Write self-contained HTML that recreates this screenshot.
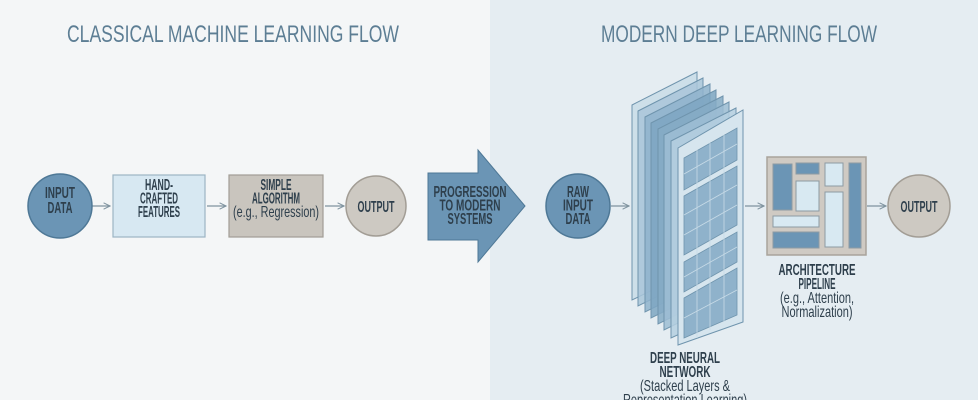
<!DOCTYPE html>
<html><head><meta charset="utf-8"><style>
html,body{margin:0;padding:0;}
body{width:978px;height:400px;overflow:hidden;background:#f3f5f6;}
svg{display:block;}
text{font-family:"Liberation Sans Narrow","Liberation Sans",sans-serif;}
</style></head><body>
<svg width="978" height="400" viewBox="0 0 978 400" xmlns="http://www.w3.org/2000/svg">
<defs>
<marker id="ah" viewBox="0 0 10 10" refX="9" refY="5" markerWidth="8" markerHeight="8" orient="auto" markerUnits="userSpaceOnUse">
<path d="M1,1 L9,5 L1,9" fill="none" stroke="#7f939f" stroke-width="1.3"/>
</marker>
</defs>
<rect x="0" y="0" width="490" height="400" fill="#f4f6f7"/>
<rect x="490" y="0" width="488" height="400" fill="#e5edf2"/>

<text x="233" y="42" font-size="24" fill="#5d7e94" text-anchor="middle" textLength="332" lengthAdjust="spacingAndGlyphs">CLASSICAL MACHINE LEARNING FLOW</text>
<text x="739" y="42" font-size="24" fill="#5d7e94" text-anchor="middle" textLength="276" lengthAdjust="spacingAndGlyphs">MODERN DEEP LEARNING FLOW</text>

<g stroke="#7f939f" stroke-width="1.3" fill="none" marker-end="url(#ah)">
<line x1="92" y1="206" x2="110" y2="206"/>
<line x1="207" y1="206" x2="226" y2="206"/>
<line x1="325" y1="206" x2="344" y2="206"/>
<line x1="611" y1="206" x2="629" y2="206"/>
<line x1="745" y1="206" x2="764" y2="206"/>
<line x1="867" y1="206" x2="886" y2="206"/>
</g>

<g font-weight="bold" font-size="16" text-anchor="middle" fill="#2e3f4c">
<circle cx="60" cy="206" r="32" fill="#6b95b5" stroke="#4e7896" stroke-width="1.5"/>
<text x="60" y="198" textLength="30" lengthAdjust="spacingAndGlyphs">INPUT</text><text x="60" y="213" textLength="25" lengthAdjust="spacingAndGlyphs">DATA</text>

<rect x="113" y="175" width="92" height="62" fill="#d7e8f2" stroke="#9cb5c4" stroke-width="1.2"/>
<text x="159" y="190" textLength="28" lengthAdjust="spacingAndGlyphs">HAND-</text><text x="159" y="203.5" textLength="38" lengthAdjust="spacingAndGlyphs">CRAFTED</text><text x="159" y="217" textLength="42" lengthAdjust="spacingAndGlyphs">FEATURES</text>

<rect x="229" y="175" width="94" height="62" fill="#c9c5be" stroke="#a29d95" stroke-width="1.2"/>
<text x="276" y="190" textLength="31" lengthAdjust="spacingAndGlyphs">SIMPLE</text><text x="276" y="203.5" textLength="48" lengthAdjust="spacingAndGlyphs">ALGORITHM</text>
<text x="276" y="217" font-weight="normal" textLength="86" lengthAdjust="spacingAndGlyphs">(e.g., Regression)</text>

<circle cx="376" cy="206" r="30" fill="#cdc9c2" stroke="#a29d95" stroke-width="1.5"/>
<text x="376" y="212" textLength="37" lengthAdjust="spacingAndGlyphs">OUTPUT</text>

<path d="M428,173 L478,173 L478,150 L525,206 L478,262 L478,240 L428,240 Z" fill="#6b95b5" stroke="#4e7896" stroke-width="1"/>
<text x="470" y="197" textLength="73" lengthAdjust="spacingAndGlyphs">PROGRESSION</text><text x="470" y="210.5" textLength="61" lengthAdjust="spacingAndGlyphs">TO MODERN</text><text x="470" y="224" textLength="45" lengthAdjust="spacingAndGlyphs">SYSTEMS</text>

<circle cx="578" cy="206" r="32" fill="#6b95b5" stroke="#4e7896" stroke-width="1.5"/>
<text x="578" y="197" textLength="22" lengthAdjust="spacingAndGlyphs">RAW</text><text x="578" y="210.5" textLength="30" lengthAdjust="spacingAndGlyphs">INPUT</text><text x="578" y="224" textLength="25" lengthAdjust="spacingAndGlyphs">DATA</text>
</g>

<!-- DNN stack -->
<g stroke="#6f94ad" stroke-width="1">
<polygon points="632,105 697,72 697,268 632,300" fill="#c9dce8" fill-opacity="0.85"/>
<polygon points="638,111 703,78 703,274 638,306" fill="#a9c6d9" fill-opacity="0.85"/>
<polygon points="645,117 710,84 710,280 645,312" fill="#8fb3cc" fill-opacity="0.85"/>
<polygon points="651,123 716,90 716,286 651,318" fill="#7ea6c2" fill-opacity="0.85"/>
<polygon points="658,129 723,96 723,292 658,324" fill="#86abc6" fill-opacity="0.85"/>
<polygon points="664,135 729,102 729,298 664,330" fill="#9dbdd3" fill-opacity="0.85"/>
<polygon points="671,141 736,108 736,308 671,338" fill="#b5cfe0" fill-opacity="0.85"/>
<polygon points="678,148 743,110 743,322 678,345" fill="#d6e5ee"/>
</g>
<g fill="#8fb2cb" stroke="#6f94ad" stroke-width="0.8">
<polygon points="684,158 737,128 737,160 684,190"/>
<polygon points="684,196 737,166 737,225 684,255"/>
<polygon points="684,262 737,232 737,262 684,292"/>
<polygon points="684,298 737,268 737,315 684,338"/>
</g>
<g stroke="#c8dbe7" stroke-width="0.8">
<line x1="697" y1="150" x2="697" y2="338"/><line x1="710" y1="143" x2="710" y2="330"/><line x1="724" y1="135" x2="724" y2="322"/>
<line x1="684" y1="174" x2="737" y2="144"/><line x1="684" y1="215" x2="737" y2="185"/><line x1="684" y1="235" x2="737" y2="205"/>
<line x1="684" y1="277" x2="737" y2="247"/><line x1="684" y1="318" x2="737" y2="290"/>
</g>

<!-- Architecture -->
<rect x="767" y="157" width="99" height="98" fill="#cfcac3" stroke="#a9a39b" stroke-width="1.5"/>
<g stroke="#8c9aa3" stroke-width="1">
<rect x="773" y="164" width="19" height="46" fill="#6b95b5"/>
<rect x="796" y="163" width="23" height="11" fill="#6b95b5"/>
<rect x="796" y="181" width="23" height="30" fill="#d8e9f2"/>
<rect x="825" y="163" width="18" height="23" fill="#d8e9f2"/>
<rect x="825" y="192" width="18" height="55" fill="#d8e9f2"/>
<rect x="849" y="163" width="12" height="85" fill="#6b95b5"/>
<rect x="773" y="216" width="46" height="11" fill="#d8e9f2"/>
<rect x="773" y="232" width="46" height="16" fill="#6b95b5"/>
</g>

<g font-weight="bold" font-size="16" text-anchor="middle" fill="#2e3f4c">
<circle cx="919" cy="206" r="31" fill="#cdc9c2" stroke="#a29d95" stroke-width="1.5"/>
<text x="919" y="212" textLength="37" lengthAdjust="spacingAndGlyphs">OUTPUT</text>
<text x="817" y="275" textLength="77" lengthAdjust="spacingAndGlyphs">ARCHITECTURE</text><text x="817" y="289" textLength="37" lengthAdjust="spacingAndGlyphs">PIPELINE</text>
<text x="817" y="303" font-weight="normal" textLength="74" lengthAdjust="spacingAndGlyphs">(e.g., Attention,</text>
<text x="817" y="317" font-weight="normal" textLength="71" lengthAdjust="spacingAndGlyphs">Normalization)</text>
<text x="685" y="363" textLength="70" lengthAdjust="spacingAndGlyphs">DEEP NEURAL</text><text x="685" y="377" textLength="51" lengthAdjust="spacingAndGlyphs">NETWORK</text>
<text x="685" y="391" font-weight="normal" textLength="90" lengthAdjust="spacingAndGlyphs">(Stacked Layers &amp;</text>
<text x="685" y="405" font-weight="normal" textLength="124" lengthAdjust="spacingAndGlyphs">Representation Learning)</text>
</g>
</svg>
</body></html>
